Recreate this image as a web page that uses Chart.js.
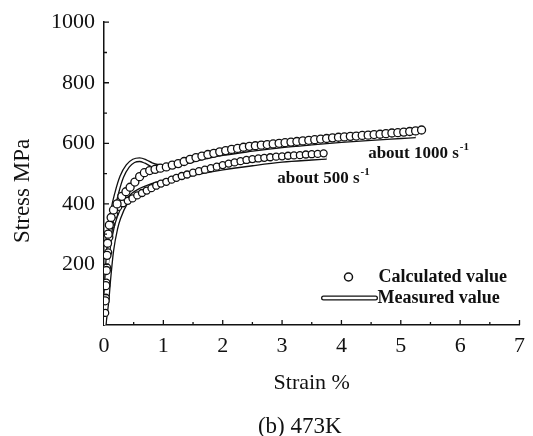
<!DOCTYPE html>
<html>
<head>
<meta charset="utf-8">
<script src="https://cdn.jsdelivr.net/npm/chart.js@4.4.1/dist/chart.umd.min.js"></script>
<style>
    html, body { margin: 0; padding: 0; background: #ffffff; }
    #wrap { width: 533px; height: 436px; position: relative; }
</style>
</head>
<body>
<div id="wrap"><canvas id="chart"></canvas></div>
<script>
// values: strain in %, stress in MPa

// calculated, about 1000 1/s (circles)
const calc1000Strain = [0.02, 0.03, 0.04, 0.05, 0.06, 0.07, 0.09, 0.12, 0.16, 0.22, 0.30, 0.37, 0.44, 0.52, 0.60, 0.68, 0.77, 0.86, 0.95,
    1.05, 1.15, 1.25, 1.35, 1.45, 1.55, 1.65, 1.75, 1.85, 1.95, 2.05, 2.15, 2.25, 2.35, 2.45, 2.55, 2.65, 2.75, 2.85, 2.95,
    3.05, 3.15, 3.25, 3.35, 3.45, 3.55, 3.65, 3.75, 3.85, 3.95, 4.05, 4.15, 4.25, 4.35, 4.45, 4.55, 4.65, 4.75, 4.85, 4.95,
    5.05, 5.15, 5.25, 5.35];
const calc1000Stress = [80, 130, 180, 230, 270, 300, 330, 355, 380, 400, 425, 440, 455, 472, 490, 503, 510, 514, 518,
    522, 528, 533, 540, 547, 553, 558, 563, 567, 572, 576, 580, 583, 587, 590, 592, 594, 596, 598, 600,
    602, 604, 606, 608, 610, 612, 614, 616, 618, 620, 621, 623, 624, 626, 627, 629, 630, 632, 634, 635,
    637, 639, 641, 644];

// calculated, about 500 1/s (circles)
const calc500Strain = [0.02, 0.03, 0.04, 0.05, 0.07, 0.09, 0.12, 0.17, 0.24, 0.32, 0.40, 0.48, 0.56, 0.64, 0.72, 0.80, 0.88, 0.96,
    1.05, 1.14, 1.22, 1.31, 1.40, 1.50, 1.60, 1.70, 1.80, 1.90, 2.00, 2.10, 2.20, 2.30, 2.40, 2.50, 2.60, 2.70, 2.80, 2.90,
    3.00, 3.10, 3.20, 3.30, 3.40, 3.50, 3.60, 3.70];
const calc500Stress = [40, 90, 140, 190, 240, 290, 330, 365, 390, 402, 410, 418, 428, 436, 444, 452, 460, 467,
    473, 480, 486, 492, 497, 503, 508, 513, 518, 523, 528, 533, 537, 541, 545, 548, 550, 552, 554, 556,
    557, 559, 560, 561, 563, 564, 565, 567];

// measured curves (double line)
const meas1000Strain = [0, 0.03, 0.06, 0.10, 0.15, 0.22, 0.30, 0.40, 0.50, 0.60, 0.70, 0.80, 0.90, 1.00, 1.20, 1.50, 2.00, 2.50, 3.00, 3.50, 4.00, 4.50, 5.00, 5.25];
const meas1000Stress = [0, 100, 200, 300, 380, 440, 490, 525, 542, 546, 540, 530, 524, 523, 530, 545, 566, 580, 592, 601, 609, 616, 622, 625];
const meas500Strain = [0, 0.05, 0.08, 0.13, 0.20, 0.25, 0.37, 0.50, 0.60, 0.80, 1.00, 1.20, 1.50, 2.00, 2.50, 3.00, 3.50, 3.75];
const meas500Stress = [0, 80, 150, 245, 320, 354, 405, 432, 444, 460, 472, 485, 500, 518, 532, 544, 551, 554];

// axes
const xTickValues = [0, 1, 2, 3, 4, 5, 6, 7];
const yTickValues = [200, 400, 600, 800, 1000];

// curve labels: [text, superscript, strain, stress]
const curveLabels = [
    ["about 1000 s", "-1", 4.45, 550],
    ["about 500 s", "-1", 2.92, 470]
];

const SERIF = "'Liberation Serif', 'Times New Roman', serif";
const INK = "#111111";

function toPoints(aX, aY) {
    return aX.map((x, i) => ({ x: x, y: aY[i] }));
}

// inward ticks, curve labels, legend box and caption
const paperPlugin = {
    id: "paperDecor",
    afterDraw: function (chart) {
        const ctx = chart.ctx;
        const xs = chart.scales.x;
        const ys = chart.scales.y;
        const area = chart.chartArea;

        ctx.save();
        ctx.strokeStyle = INK;
        ctx.lineWidth = 1.3;
        ctx.beginPath();
        for (let v = 0.5; v <= 7; v += 0.5) {
            const px = xs.getPixelForValue(v);
            const len = Number.isInteger(v) ? 5 : 3;
            ctx.moveTo(px, area.bottom);
            ctx.lineTo(px, area.bottom - len);
        }
        for (let v = 100; v <= 1000; v += 100) {
            const py = ys.getPixelForValue(v);
            const len = v % 200 === 0 ? 5 : 3;
            ctx.moveTo(area.left, py);
            ctx.lineTo(area.left + len, py);
        }
        ctx.stroke();

        // curve labels
        ctx.fillStyle = INK;
        ctx.textBaseline = "alphabetic";
        ctx.textAlign = "left";
        curveLabels.forEach(function (aLabel) {
            const px = xs.getPixelForValue(aLabel[2]);
            const py = ys.getPixelForValue(aLabel[3]);
            ctx.font = "bold 17px " + SERIF;
            ctx.fillText(aLabel[0], px, py);
            const w = ctx.measureText(aLabel[0]).width;
            ctx.font = "bold 11px " + SERIF;
            ctx.fillText(aLabel[1], px + w + 1, py - 8);
        });

        // legend
        const lx = area.right - 171;
        const ly = area.bottom - 48;
        ctx.beginPath();
        ctx.lineWidth = 1.5;
        ctx.fillStyle = "#ffffff";
        ctx.arc(lx, ly, 4, 0, Math.PI * 2);
        ctx.fill();
        ctx.stroke();
        ctx.lineCap = "round";
        ctx.beginPath();
        ctx.lineWidth = 5;
        ctx.moveTo(lx - 25, ly + 21);
        ctx.lineTo(lx + 27, ly + 21);
        ctx.stroke();
        ctx.beginPath();
        ctx.strokeStyle = "#ffffff";
        ctx.lineWidth = 2.4;
        ctx.moveTo(lx - 25, ly + 21);
        ctx.lineTo(lx + 27, ly + 21);
        ctx.stroke();
        ctx.fillStyle = INK;
        ctx.font = "bold 18px " + SERIF;
        ctx.textBaseline = "middle";
        ctx.fillText("Calculated value", lx + 30, ly);
        ctx.fillText("Measured value", lx + 29, ly + 21);

        // caption
        ctx.font = "23px " + SERIF;
        ctx.textAlign = "center";
        ctx.fillText("(b) 473K", (area.left + area.right) / 2 - 12, 427);
        ctx.restore();
    }
};

const oChart = new Chart(document.getElementById("chart").getContext("2d"), {
    type: "line",
    data: {
        datasets: [
            {
                label: "Calculated value",
                data: toPoints(calc1000Strain, calc1000Stress),
                showLine: false,
                pointRadius: 4,
                pointBorderWidth: 1.3,
                pointBorderColor: INK,
                pointBackgroundColor: "#ffffff"
            },
            {
                label: "Calculated value 500",
                data: toPoints(calc500Strain, calc500Stress),
                showLine: false,
                pointRadius: 3.5,
                pointBorderWidth: 1.3,
                pointBorderColor: INK,
                pointBackgroundColor: "#ffffff"
            },
            {
                label: "Measured inner 1000",
                data: toPoints(meas1000Strain, meas1000Stress),
                borderColor: "#ffffff",
                borderWidth: 2.4,
                pointRadius: 0,
                cubicInterpolationMode: "monotone"
            },
            {
                label: "Measured inner 500",
                data: toPoints(meas500Strain, meas500Stress),
                borderColor: "#ffffff",
                borderWidth: 2.4,
                pointRadius: 0,
                cubicInterpolationMode: "monotone"
            },
            {
                label: "Measured value",
                data: toPoints(meas1000Strain, meas1000Stress),
                borderColor: INK,
                borderWidth: 5,
                pointRadius: 0,
                cubicInterpolationMode: "monotone"
            },
            {
                label: "Measured value 500",
                data: toPoints(meas500Strain, meas500Stress),
                borderColor: INK,
                borderWidth: 5,
                pointRadius: 0,
                cubicInterpolationMode: "monotone"
            }
        ]
    },
    options: {
        responsive: true,
        maintainAspectRatio: false,
        animation: false,
        devicePixelRatio: 1,
        layout: {
            padding: { left: 0, right: 12, top: 22, bottom: 0 }
        },
        plugins: {
            legend: { display: false },
            tooltip: { enabled: false }
        },
        scales: {
            x: {
                type: "linear",
                min: 0,
                max: 7,
                afterFit: function (scale) { scale.height = 111; },
                afterBuildTicks: function (scale) {
                    scale.ticks = xTickValues.map(v => ({ value: v }));
                },
                grid: { display: false, drawTicks: false },
                border: { display: true, color: INK, width: 1.5 },
                ticks: {
                    color: INK,
                    padding: 8,
                    font: { family: SERIF, size: 22 },
                    callback: function (value) { return String(value); }
                },
                title: {
                    display: true,
                    text: "Strain %",
                    color: INK,
                    font: { family: SERIF, size: 22 },
                    padding: { top: 0, bottom: 40 }
                }
            },
            y: {
                type: "linear",
                min: 0,
                max: 1000,
                afterFit: function (scale) { scale.width = 104; },
                afterBuildTicks: function (scale) {
                    scale.ticks = yTickValues.map(v => ({ value: v }));
                },
                grid: { display: false, drawTicks: false },
                border: { display: true, color: INK, width: 1.5 },
                ticks: {
                    color: INK,
                    padding: 9,
                    font: { family: SERIF, size: 22 },
                    callback: function (value) { return String(value); }
                },
                title: {
                    display: true,
                    text: "Stress MPa      ",
                    color: INK,
                    font: { family: SERIF, size: 23 },
                    padding: { top: 9, bottom: 0 }
                }
            }
        }
    },
    plugins: [paperPlugin]
});
</script>
</body>
</html>
